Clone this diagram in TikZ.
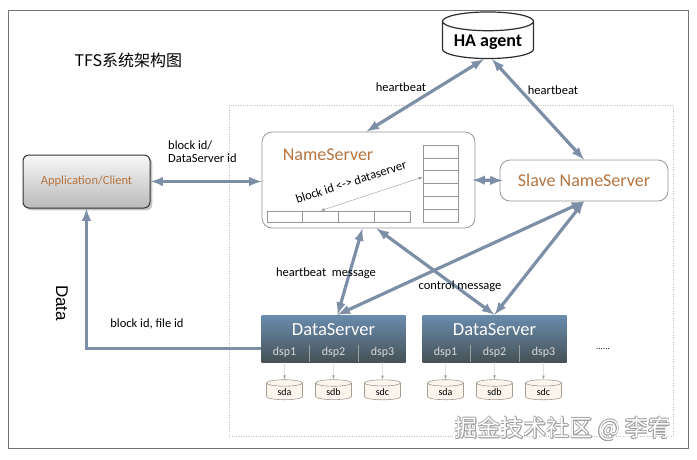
\documentclass[tikz,border=0pt]{standalone}
\usepackage{fontspec}
\setmainfont{Carlito}
\newfontfamily\cjkfont{Noto Sans CJK SC}
\newfontfamily\datafont{Liberation Sans}
\usepackage{tikz}
\usetikzlibrary{shapes,arrows,shadows,positioning,calc}
\definecolor{arrowblue}{RGB}{124,143,166}
\definecolor{nametext}{RGB}{182,116,64}
\definecolor{dstop}{RGB}{106,140,174}
\definecolor{dsbottom}{RGB}{70,82,86}
\definecolor{boxline}{RGB}{150,150,150}
\definecolor{diskfill}{RGB}{250,246,238}
\definecolor{diskline}{RGB}{165,155,145}
\newcommand\fsz[1]{\fontsize{#1}{#1}\selectfont}
\tikzset{
  srvbox/.style={
    draw=boxline,
    rectangle,
    rounded corners=10pt,
    line width=0.8pt,
    fill=white,
  },
  cell/.style={draw=boxline, line width=0.6pt, inner sep=0pt},
  bigarrow/.style={latex-latex, line width=3.2pt, draw=arrowblue},
  smallarrow/.style={-latex, line width=0.4pt, draw=gray!70},
  lbl/.style={font=\fsz{12.5}, inner sep=1pt},
}

\begin{document}
\begin{tikzpicture}[x=1pt,y=-1pt,
        appbox/.style={
          rectangle, draw=gray!40!black, line width=1pt,
          rounded corners=6pt,
          top color=gray!5, bottom color=gray!55,
          drop shadow={opacity=0.45},
          minimum width=127pt, minimum height=53pt,
          text=nametext, font=\fsz{12.5}
        },
        dsbox/.style={
          rectangle, top color=dstop, bottom color=dsbottom,
          minimum width=144pt, minimum height=47pt, inner sep=0pt
        },
        disk/.style={
          cylinder, shape border rotate=90, aspect=0.4,
          draw=diskline, fill=diskfill, line width=0.6pt,
          minimum width=36pt, minimum height=20pt, inner sep=1pt,
          font=\fsz{10}
        },
        hacyl/.style={
          cylinder, shape border rotate=90, aspect=0.25,
          draw=gray!35!black, fill=white, line width=1.2pt,
          minimum width=91pt, minimum height=42pt,
          font=\bfseries\fsz{18}
        }]
        \useasboundingbox (0,0) rectangle (697,459);

        % frames
        \draw[gray!90!black, line width=0.8pt] (8,10) rectangle (688,448);
        \draw[gray!50, dotted] (229,105) rectangle (673,436);

        \node (title) [anchor=west, font=\cjkfont\fsz{16}] at (71,60) {TFS系统架构图};

        % HA agent
        \node (ha) [hacyl] at (488,42) {HA agent};

        % NameServer with tables
        \node (ns) [srvbox, minimum width=213pt, minimum height=96pt] at (368.5,180) {};
        \node (nslabel) [text=nametext, font=\fsz{18}] at (328,155) {NameServer};
        \foreach \i in {1,...,6}
          \node (nsv\i) [cell, minimum width=35pt, minimum height=12.8pt] at (440.5,{138.6+12.83*\i}) {};
        \foreach \i in {1,...,4}
          \node (nsh\i) [cell, minimum width=35.75pt, minimum height=11pt] at ({249.1+35.75*\i},216.5) {};
        \draw [latex-latex, thin, gray!80] (nsh2.north) -- (nsv3.west);
        \node (maplabel) [lbl, rotate=18] at (351,182) {block id <-> dataserver};

        % Slave NameServer
        \node (slave) [srvbox, minimum width=168pt, minimum height=41pt, text=nametext, font=\fsz{18}] at (584,180.5) {Slave NameServer};

        % Client
        \node (app) [appbox] at (86.5,181.5) {Application/Client};

        % DataServers
        \foreach \s/\x in {1/333.5, 2/494.5} {
          \node (ds\s) [dsbox] at (\x,338.5) {};
          \node (dstitle\s) [text=white, font=\fsz{18.5}] at ($(ds\s)+(0,-8.5)$) {DataServer};
          \foreach \d/\dx/\disk in {1/-49/sda, 2/0/sdb, 3/49/sdc} {
            \node (dsp\s\d) [text=white!85!black, font=\fsz{12}] at ($(ds\s)+(\dx,13.5)$) {dsp\d};
            \node (disk\s\d) [disk] at ($(ds\s)+(\dx,53.5)$) {\disk};
            \draw [smallarrow] (dsp\s\d |- ds\s.south) -- (disk\s\d.north);
          }
          \foreach \dx in {-24.5,24.5}
            \draw [white!45!dsbottom, thin] ($(ds\s)+(\dx,6)$) -- ($(ds\s)+(\dx,23.5)$);
        }
        \node (more) [font=\fsz{9}] at (603,349) {......};

        % connectors
        \draw [bigarrow] (app.east) -- (app.east -| ns.west);
        \node (appnslabel) [lbl, align=left, anchor=north west] at (167,140) {block id/\\DataServer id};
        \draw [bigarrow] ($(ns.east)+(-3,0)$) -- ($(slave.west)+(3,0)$);
        \draw [bigarrow] ($(ha.south)+(-4,0)$) -- ($(ns.north)+(-2,0)$);
        \draw [bigarrow] ($(ha.south)+(4,0)$) -- (slave.north);
        \node (hbleft) [lbl] at (401,87) {heartbeat};
        \node (hbright) [lbl] at (553,90) {heartbeat};
        \draw [bigarrow] ($(ns.south)+(-6,0)$) -- ($(ds1.north)+(4,0)$);
        \draw [bigarrow] ($(ns.south)+(8,0)$) -- (ds2.north);
        \draw [bigarrow] (slave.south) -- ($(ds1.north)+(4,0)$);
        \draw [bigarrow] (slave.south) -- (ds2.north);
        \node (hbmsg) [lbl] at (326,273) {heartbeat\ \ message};
        \node (ctrlmsg) [lbl] at (460,286) {control message};

        % data path
        \draw [-latex, line width=3.2pt, draw=arrowblue] ($(ds1.west)+(0,10)$) -| (app.south);
        \node (datapath) [lbl] at (147,324) {block id, file id};
        \node (data) [font=\datafont\fsz{17}, rotate=-90] at (62,303) {Data};

        % watermark
        \foreach \dx/\dy in {0.8/0,-0.8/0,0/0.8,0/-0.8,0.6/0.6,-0.6/0.6,0.6/-0.6,-0.6/-0.6}
          \node (wmshade) [font=\cjkfont\fsz{23}, text=gray!75] at (563+\dx,429+\dy) {掘金技术社区 @ 李宥};
        \node (wm) [font=\cjkfont\fsz{23}, text=white] at (563,429) {掘金技术社区 @ 李宥};

      \end{tikzpicture}
\end{document}
